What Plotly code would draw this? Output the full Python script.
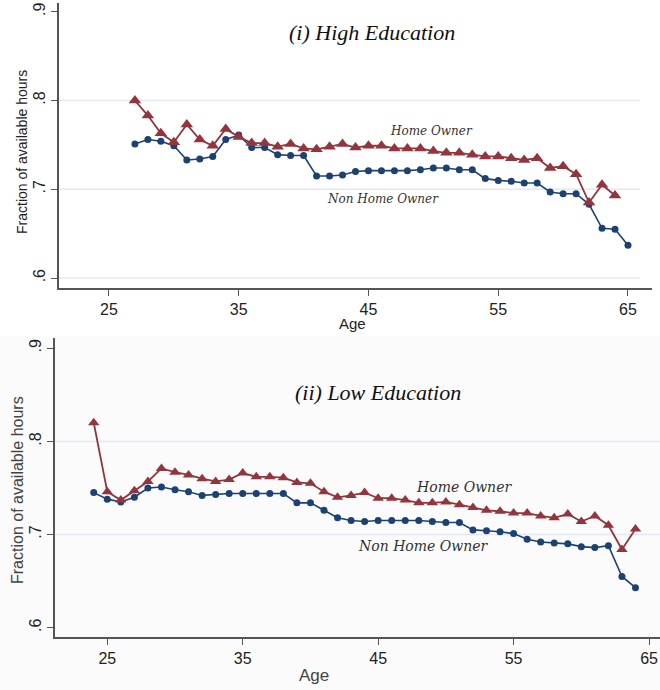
import plotly.graph_objects as go

# ---------------- data ----------------
ages_hi_owner = list(range(27, 65))
hi_owner = [0.800, 0.783, 0.763, 0.753, 0.773, 0.756, 0.749, 0.768, 0.759, 0.752,
            0.752, 0.748, 0.751, 0.746, 0.745, 0.748, 0.751, 0.747, 0.749, 0.749,
            0.746, 0.746, 0.746, 0.743, 0.741, 0.741, 0.739, 0.737, 0.737, 0.735,
            0.733, 0.735, 0.724, 0.726, 0.717, 0.685, 0.705, 0.693]

ages_hi_non = list(range(27, 66))
hi_non = [0.751, 0.756, 0.754, 0.749, 0.733, 0.734, 0.737, 0.756, 0.761, 0.747,
          0.747, 0.739, 0.738, 0.738, 0.715, 0.715, 0.716, 0.720, 0.721, 0.721,
          0.721, 0.721, 0.722, 0.724, 0.724, 0.722, 0.722, 0.712, 0.710, 0.709,
          0.707, 0.707, 0.697, 0.695, 0.695, 0.683, 0.656, 0.655, 0.637]

ages_lo = list(range(24, 65))
lo_owner = [0.820, 0.746, 0.737, 0.747, 0.757, 0.771, 0.767, 0.764, 0.760, 0.757,
            0.759, 0.766, 0.762, 0.762, 0.761, 0.756, 0.755, 0.746, 0.740, 0.742,
            0.745, 0.739, 0.739, 0.737, 0.734, 0.734, 0.735, 0.732, 0.729, 0.726,
            0.725, 0.723, 0.723, 0.720, 0.718, 0.722, 0.714, 0.720, 0.710, 0.684,
            0.706]
lo_non = [0.745, 0.738, 0.735, 0.740, 0.750, 0.751, 0.748, 0.746, 0.742, 0.743,
          0.744, 0.744, 0.744, 0.744, 0.744, 0.734, 0.734, 0.726, 0.718, 0.715,
          0.714, 0.715, 0.715, 0.715, 0.715, 0.714, 0.713, 0.713, 0.705, 0.704,
          0.703, 0.701, 0.695, 0.692, 0.691, 0.690, 0.687, 0.686, 0.688, 0.655,
          0.643]

x_ticks = [25, 35, 45, 55, 65]
y_ticks = [0.6, 0.7, 0.8, 0.9]
y_ticktext = [".6", ".7", ".8", ".9"]
grid_vals = [0.6, 0.7, 0.8]

titles = ["(i) High Education", "(ii) Low Education"]
series_names = ["Home Owner", "Non Home Owner"]

RED = "#93353c"
BLUE = "#1c4273"
W, H = 660, 690

def px(x):
    return x / W

def py(y):
    return 1 - y / H

fig = go.Figure()

# background for lower panel
fig.add_shape(type="rect", xref="paper", yref="paper", x0=0, x1=1, y0=0, y1=py(336),
              fillcolor="#fbfbfb", line_width=0, layer="below")

def add_panel(ages_o, own, ages_n, non, xa, ya, tri):
    fig.add_trace(go.Scatter(x=ages_n, y=non, mode="lines+markers", name=series_names[1],
                             xaxis=xa, yaxis=ya,
                             line=dict(color=BLUE, width=1.6),
                             marker=dict(symbol="circle", size=7, color=BLUE)))
    fig.add_trace(go.Scatter(x=ages_o, y=own, mode="lines+markers", name=series_names[0],
                             xaxis=xa, yaxis=ya,
                             line=dict(color=RED, width=1.8),
                             marker=dict(symbol="triangle-up", size=tri, color=RED)))

add_panel(ages_hi_owner, hi_owner, ages_hi_non, hi_non, "x", "y", 11)
add_panel(ages_lo, lo_owner, ages_lo, lo_non, "x2", "y2", 10)

axis_common = dict(showgrid=False, zeroline=False, showline=True, linecolor="#555555",
                   linewidth=1.5, ticks="outside", ticklen=6, tickcolor="#555555",
                   tickwidth=1.2, tickfont=dict(family="Liberation Sans, Arial", size=16, color="#222"))

fig.update_layout(
    width=W, height=H, margin=dict(l=0, r=0, t=0, b=0),
    paper_bgcolor="white", plot_bgcolor="rgba(0,0,0,0)", showlegend=False,
    xaxis=dict(domain=[px(59), px(652)], range=[21.15, 66.85], anchor="y",
               tickvals=x_ticks, **axis_common),
    yaxis=dict(domain=[py(288), py(3)], range=[0.5888, 0.9098], anchor="x",
               tickvals=y_ticks, ticktext=y_ticktext, tickangle=-90, **axis_common),
    xaxis2=dict(domain=[px(55), 1.0], range=[21.14, 65.81], anchor="y2",
                tickvals=x_ticks, **axis_common),
    yaxis2=dict(domain=[py(637), py(338)], range=[0.590, 0.911], anchor="x2",
                tickvals=y_ticks, ticktext=y_ticktext, tickangle=-90, **axis_common),
)

# gridlines
for v in grid_vals:
    fig.add_shape(type="line", xref="x domain", yref="y", x0=0, x1=0.98, y0=v, y1=v,
                  line=dict(color="#e3e8f3", width=1.5), layer="below")
    if v != 0.6:
        fig.add_shape(type="line", xref="x2 domain", yref="y2", x0=0, x1=1, y0=v, y1=v,
                      line=dict(color="#e3e8f3", width=1.5), layer="below")

serif_it = "Liberation Serif"
ann = []
# panel titles
ann.append(dict(text="<i>" + titles[0] + "</i>", x=px(372), y=py(33), font=dict(family=serif_it, size=22, color="#111")))
ann.append(dict(text="<i>" + titles[1] + "</i>", x=px(378), y=py(392), font=dict(family=serif_it, size=22, color="#111")))
# series labels
ann.append(dict(text="<i>" + series_names[0] + "</i>", x=px(431), y=py(131), font=dict(family="DejaVu Serif", size=12, color="#333")))
ann.append(dict(text="<i>" + series_names[1] + "</i>", x=px(383), y=py(199), font=dict(family="DejaVu Serif", size=12, color="#333")))
ann.append(dict(text="<i>" + series_names[0] + "</i>", x=px(464), y=py(487), font=dict(family="DejaVu Serif", size=14, color="#333")))
ann.append(dict(text="<i>" + series_names[1] + "</i>", x=px(423), y=py(546), font=dict(family="DejaVu Serif", size=14, color="#333")))
# axis titles
ann.append(dict(text="Age", x=px(353), y=py(323), font=dict(family="Liberation Sans, Arial", size=15, color="#222")))
ann.append(dict(text="Age", x=px(314), y=py(675), font=dict(family="Liberation Sans, Arial", size=17, color="#444")))
ann.append(dict(text="Fraction of available hours", x=px(22), y=py(152), textangle=-90,
                font=dict(family="Liberation Sans, Arial", size=14, color="#222")))
ann.append(dict(text="Fraction of available hours", x=px(17), y=py(490), textangle=-90,
                font=dict(family="Liberation Sans, Arial", size=16, color="#444")))

for a in ann:
    a.update(xref="paper", yref="paper", showarrow=False, xanchor="center", yanchor="middle")
    fig.add_annotation(**a)

fig.write_html("out.html")
